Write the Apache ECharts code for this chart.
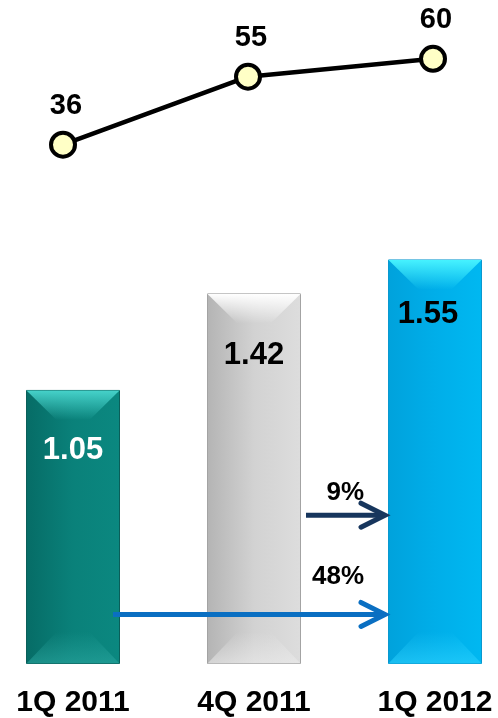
<!DOCTYPE html>
<html>
<head>
<meta charset="utf-8">
<script src="https://cdn.jsdelivr.net/npm/echarts@6/dist/echarts.min.js"></script>
<style>
  html, body { margin: 0; padding: 0; background: #ffffff; }
  #chart { width: 498px; height: 718px; }
</style>
</head>
<body>
<div id="chart"></div>
<script>
// Quarterly figures
const categories = ['1Q 2011', '4Q 2011', '1Q 2012'];
const barValues = [1.05, 1.42, 1.55];
const lineValues = [36, 55, 60];

// Growth arrows: label, compared from, compared to
const growthLabels = ['9%', '48%'];
const growthFrom = ['4Q 2011', '1Q 2011'];
const growthTo = ['1Q 2012', '1Q 2012'];

// Visual styling per bar
const barStyles = [
  { stops: ['#066c66', '#0a817a', '#0b8880'], border: '#0a5e59', bevelTop: '#46d2ca', bevelBottom: '#2aa69f', text: '#ffffff', dist: 45, dx: 0 },
  { stops: ['#b4b4b4', '#d2d2d2', '#dddddd'], border: '#a3a3a3', bevelTop: '#ffffff', bevelBottom: '#ececec', text: '#000000', dist: 47, dx: 0 },
  { stops: ['#00a2dc', '#00aee9', '#00b8f1'], border: '#0a98cf', bevelTop: '#46f2ff', bevelBottom: '#2cd2ff', text: '#000000', dist: 40, dx: -7 }
];
// Arrow styling: height level (value units), start padding from bar edge (px), colour, label lift (px)
const arrowStyles = [
  { level: 0.57, pad: 5, color: '#17365d', lift: 22 },
  { level: 0.19, pad: -7, color: '#0a6fc2', lift: 38 }
];

const FONT = '"Liberation Sans", Arial, sans-serif';
const BAR_W = 94;
const BEVEL = 30;

const chart = echarts.init(document.getElementById('chart'), null, { renderer: 'canvas' });

function hexA(hex, a) {
  const n = parseInt(hex.slice(1), 16);
  return 'rgba(' + ((n >> 16) & 255) + ',' + ((n >> 8) & 255) + ',' + (n & 255) + ',' + a + ')';
}

const option = {
  backgroundColor: '#ffffff',
  animation: false,
  grid: [
    { left: 73, right: 63, top: 142, bottom: 52 },
    { left: 63, right: 65, top: 23, height: 179 }
  ],
  xAxis: [
    {
      type: 'category', gridIndex: 0, data: categories, boundaryGap: false,
      axisLine: { show: false }, axisTick: { show: false }, splitLine: { show: false },
      axisLabel: { fontFamily: FONT, fontWeight: 'bold', fontSize: 30, color: '#000', margin: 24, interval: 0 }
    },
    {
      type: 'category', gridIndex: 1, data: categories, boundaryGap: false, show: false
    }
  ],
  yAxis: [
    { type: 'value', gridIndex: 0, min: 0, max: 2, show: false, splitLine: { show: false } },
    { type: 'value', gridIndex: 1, min: 20, max: 70, show: false, splitLine: { show: false } }
  ],
  series: [
    {
      type: 'bar',
      xAxisIndex: 0, yAxisIndex: 0,
      barWidth: BAR_W,
      data: barValues.map((v, i) => ({
        value: v,
        itemStyle: {
          color: {
            type: 'linear', x: 0, y: 0, x2: 1, y2: 0,
            colorStops: [
              { offset: 0, color: barStyles[i].stops[0] },
              { offset: 0.5, color: barStyles[i].stops[1] },
              { offset: 1, color: barStyles[i].stops[2] }
            ]
          },
          borderColor: barStyles[i].border,
          borderWidth: 1
        },
        label: {
          show: true, position: 'insideTop', distance: barStyles[i].dist,
          offset: [barStyles[i].dx, 0],
          color: barStyles[i].text, fontFamily: FONT, fontWeight: 'bold', fontSize: 31,
          formatter: (p) => p.value.toFixed(2)
        }
      })),
      z: 2
    },
    {
      // bevel highlights on the top and bottom of each bar
      type: 'custom',
      xAxisIndex: 0, yAxisIndex: 0,
      data: barValues.map((v, i) => [i, v]),
      z: 3,
      silent: true,
      renderItem: function (params, api) {
        const i = api.value(0);
        const top = api.coord([i, api.value(1)]);
        const base = api.coord([i, 0]);
        const x0 = top[0] - BAR_W / 2 + 0.5;
        const x1 = top[0] + BAR_W / 2 - 0.5;
        const st = barStyles[params.dataIndex];
        return {
          type: 'group',
          children: [
            {
              type: 'polygon',
              shape: { points: [[x0, top[1] + 0.5], [x1, top[1] + 0.5], [x1 - BEVEL, top[1] + BEVEL], [x0 + BEVEL, top[1] + BEVEL]] },
              style: {
                fill: {
                  type: 'linear', x: 0, y: 0, x2: 0, y2: 1,
                  colorStops: [
                    { offset: 0, color: hexA(st.bevelTop, 1) },
                    { offset: 1, color: hexA(st.bevelTop, 0) }
                  ]
                }
              }
            },
            {
              type: 'polygon',
              shape: { points: [[x0, base[1] - 0.5], [x1, base[1] - 0.5], [x1 - BEVEL, base[1] - BEVEL - 2], [x0 + BEVEL, base[1] - BEVEL - 2]] },
              style: {
                fill: {
                  type: 'linear', x: 0, y: 1, x2: 0, y2: 0,
                  colorStops: [
                    { offset: 0, color: hexA(st.bevelBottom, 0.6) },
                    { offset: 1, color: hexA(st.bevelBottom, 0) }
                  ]
                }
              }
            }
          ]
        };
      }
    },
    {
      // growth arrows pointing into the latest bar
      type: 'custom',
      xAxisIndex: 0, yAxisIndex: 0,
      data: growthLabels.map((l, i) => [categories.indexOf(growthFrom[i]), arrowStyles[i].level, categories.indexOf(growthTo[i]), i]),
      encode: { x: 0, y: 1 },
      z: 4,
      silent: true,
      renderItem: function (params, api) {
        const k = params.dataIndex;
        const st = arrowStyles[k];
        const from = api.coord([api.value(0), api.value(1)]);
        const to = api.coord([api.value(2), api.value(1)]);
        const xs = from[0] + BAR_W / 2 + st.pad;
        const xe = to[0] - BAR_W / 2 - 3;
        const y = from[1];
        return {
          type: 'group',
          children: [
            {
              type: 'line',
              shape: { x1: xs, y1: y, x2: xe - 2, y2: y },
              style: { stroke: st.color, lineWidth: 5 }
            },
            {
              type: 'polyline',
              shape: { points: [[xe - 24, y - 12], [xe, y], [xe - 24, y + 12]] },
              style: { stroke: st.color, lineWidth: 5, fill: null, lineCap: 'round', lineJoin: 'miter' }
            },
            {
              type: 'text',
              style: {
                x: xe - 21, y: y - st.lift,
                text: growthLabels[k],
                fill: '#000', font: 'bold 26px ' + FONT,
                align: 'right', verticalAlign: 'middle'
              }
            }
          ]
        };
      }
    },
    {
      type: 'line',
      xAxisIndex: 1, yAxisIndex: 1,
      data: lineValues,
      symbol: 'circle',
      symbolSize: 24,
      lineStyle: { color: '#000000', width: 4.5 },
      itemStyle: { color: '#ffffc6', borderColor: '#000000', borderWidth: 4 },
      label: {
        show: true, position: 'top', distance: 10, offset: [3, 0],
        fontFamily: FONT, fontWeight: 'bold', fontSize: 29, color: '#000'
      },
      z: 5
    }
  ]
};

chart.setOption(option);
</script>
</body>
</html>
